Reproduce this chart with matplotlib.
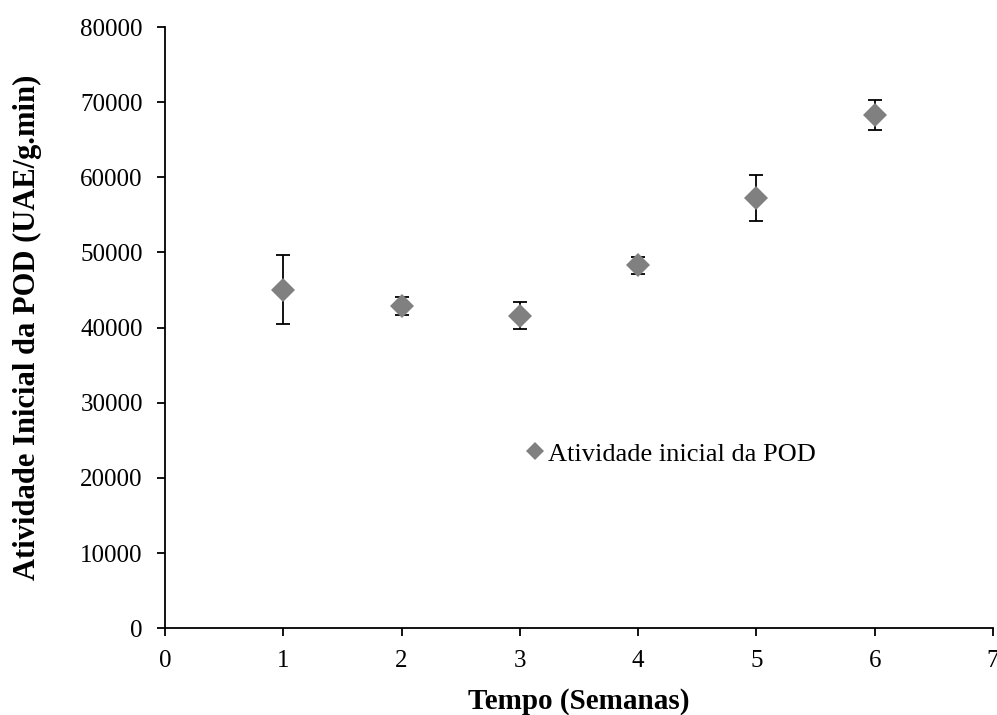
import matplotlib
matplotlib.use("Agg")
import matplotlib.pyplot as plt

weeks = [1, 2, 3, 4, 5, 6]
activity = [45050, 42860, 41590, 48270, 57260, 68330]
errors = [4620, 1220, 1820, 1070, 3090, 1980]
x_ticks = [0, 1, 2, 3, 4, 5, 6, 7]
y_ticks = [0, 10000, 20000, 30000, 40000, 50000, 60000, 70000, 80000]

plt.rcParams['font.family'] = ['Liberation Serif', 'DejaVu Serif']
plt.rcParams['font.size'] = 18

fig = plt.figure(figsize=(9.97, 7.15), dpi=100)
ax = fig.add_axes([0.1655, 0.1213, 0.8305, 0.8409])

ax.errorbar(weeks, activity, yerr=errors, fmt='none', ecolor='black',
            elinewidth=1.3, capsize=5, capthick=1.3, zorder=2)
ax.plot(weeks, activity, linestyle='none', marker='D', markersize=12,
        color='#808080', markeredgewidth=0, zorder=3,
        label='Atividade inicial da POD')

ax.set_xlim(0, 7)
ax.set_ylim(0, 80000)
ax.set_xticks(x_ticks)
ax.set_yticks(y_ticks)
ax.spines['top'].set_visible(False)
ax.spines['right'].set_visible(False)
for s in ['left', 'bottom']:
    ax.spines[s].set_linewidth(1.3)
ax.tick_params(direction='out', length=6, width=1.3, pad=10)

ax.set_xlabel('Tempo (Semanas)', fontweight='bold', fontsize=21, labelpad=11)
ax.set_ylabel('Atividade Inicial da POD (UAE/g.min)', fontweight='bold',
              fontsize=22, labelpad=0)
ax.yaxis.set_label_coords(-0.148, 0.5)

ax.legend(loc='center', bbox_to_anchor=(0.612, 0.29), frameon=False,
          handlelength=0.6, handletextpad=0.2, markerscale=0.8, fontsize=19)

fig.savefig('out.png', dpi=100)
